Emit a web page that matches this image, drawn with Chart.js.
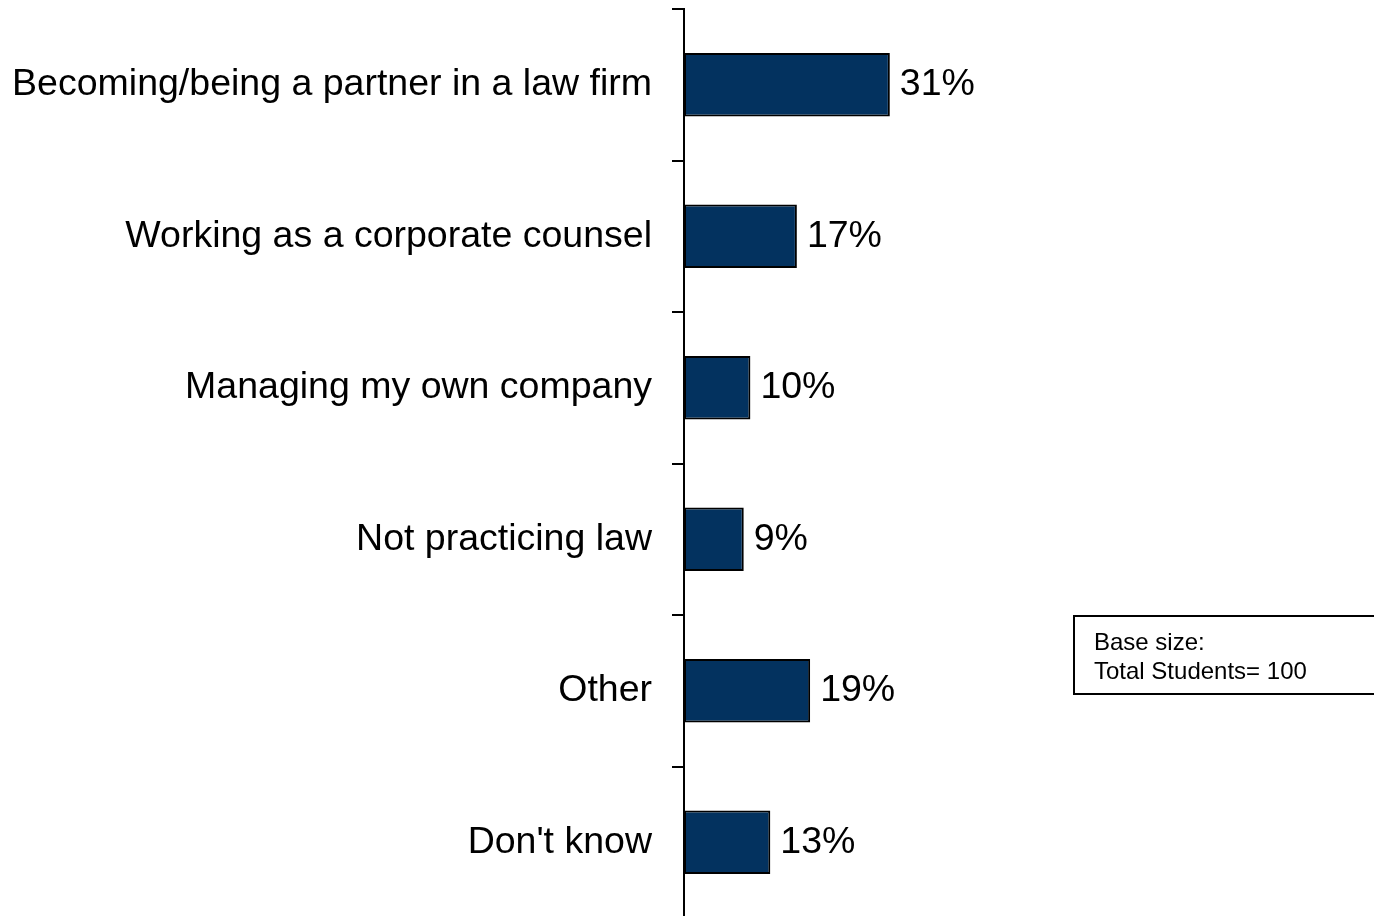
<!DOCTYPE html>
<html>
<head>
<meta charset="utf-8">
<script src="https://cdn.jsdelivr.net/npm/chart.js@4/dist/chart.umd.min.js"></script>
<style>
  html, body { margin: 0; padding: 0; background: #fff; overflow: hidden; }
  #wrap { position: relative; width: 1374px; height: 916px; overflow: hidden; }
  #chart { position: absolute; left: 0; top: 0; }
  #note {
    position: absolute; left: 1073px; top: 615px; width: 320px; height: 80px;
    border: 2px solid #000; border-right: none; box-sizing: border-box;
    font-family: "Liberation Sans", Arial, sans-serif; font-size: 24px; line-height: 29px;
    padding: 10px 0 0 19px; color: #000;
  }
</style>
</head>
<body>
<div id="wrap">
  <canvas id="chart" width="1374" height="930"></canvas>
  <div id="note">Base size:<br>Total Students= 100</div>
</div>
<script>
// categories and values (percent)
const categories = [
  "Becoming/being a partner in a law firm",
  "Working as a corporate counsel",
  "Managing my own company",
  "Not practicing law",
  "Other",
  "Don't know"
];
const values = [31, 17, 10, 9, 19, 13];

const fontFamily = '"Liberation Sans", Arial, sans-serif';

// value labels at the end of each bar
const barLabels = {
  id: "barLabels",
  afterDatasetsDraw(chart) {
    const ctx = chart.ctx;
    const meta = chart.getDatasetMeta(0);
    ctx.save();
    ctx.font = "37.5px " + fontFamily;
    ctx.fillStyle = "#000";
    ctx.textAlign = "left";
    ctx.textBaseline = "middle";
    meta.data.forEach((bar, i) => {
      ctx.fillText(values[i] + "%", bar.x + 10, bar.y);
    });
    ctx.restore();
  }
};

const context = document.getElementById("chart").getContext("2d");
const chart = new Chart(context, {
  type: "bar",
  data: {
    labels: categories,
    datasets: [{
      data: values,
      backgroundColor: "#03325f",
      borderColor: "#000",
      borderWidth: 2,
      borderSkipped: false,
      categoryPercentage: 1,
      barPercentage: 0.42
    }]
  },
  options: {
    indexAxis: "y",
    responsive: false,
    animation: false,
    devicePixelRatio: 1,
    layout: { padding: { top: 9, bottom: 12, left: 0, right: 26 } },
    plugins: {
      legend: { display: false },
      tooltip: { enabled: false }
    },
    scales: {
      x: { display: false, min: 0, max: 100 },
      y: {
        afterFit(scale) {
          scale.width = 684;
          scale.paddingTop = 0;
          scale.paddingBottom = 0;
        },
        border: { color: "#000", width: 2 },
        grid: { drawOnChartArea: false, drawTicks: true, tickLength: 12, color: "#000", lineWidth: 2 },
        ticks: { color: "#000", padding: 20, font: { family: fontFamily, size: 37.5 } }
      }
    }
  },
  plugins: [barLabels]
});
</script>
</body>
</html>
